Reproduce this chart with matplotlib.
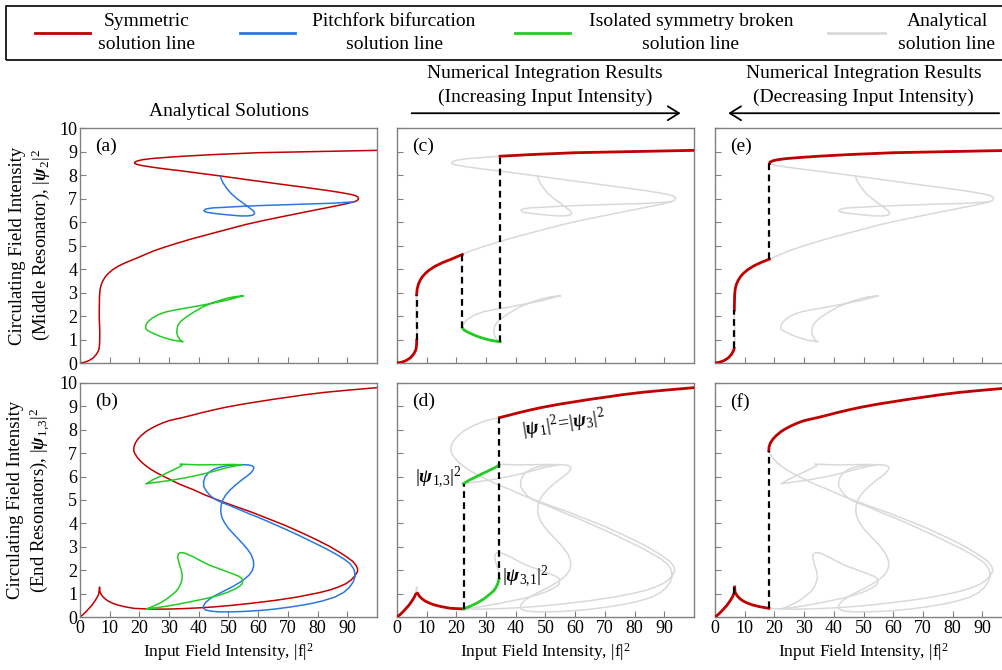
import matplotlib
matplotlib.use("Agg")
import matplotlib.pyplot as plt
import numpy as np
from matplotlib.patches import Rectangle, FancyArrowPatch
from matplotlib.lines import Line2D

plt.rcParams['font.family'] = 'Liberation Serif'
plt.rcParams['mathtext.fontset'] = 'custom'
plt.rcParams['mathtext.rm'] = 'Liberation Serif'
plt.rcParams['mathtext.it'] = 'Liberation Serif:italic'
plt.rcParams['mathtext.bf'] = 'Liberation Serif:italic:bold'

# --- средний резонатор (a, c, e) ---
mid_sym_x = [0, 1.5, 3, 4.5, 5.6, 6.2, 6.45, 6.6, 6.65, 6.68, 6.6, 6.5, 6.5, 6.55, 6.6, 6.8, 7.2, 7.8, 8.6,
             9.6, 11, 13, 15.5, 18.3, 22, 25, 28.5, 32, 37, 44, 50, 56, 62, 67, 71.7, 76, 80, 84, 87.5, 90,
             92, 93.3, 93.8, 93.6, 92.8, 91, 88, 84, 76, 67, 57, 47.3, 40, 34, 28, 24, 21, 19.2, 18.4, 18.5,
             19.3, 21, 24, 29, 34.7, 45, 60, 80, 100]
mid_sym_y = [0, 0.03, 0.1, 0.22, 0.38, 0.52, 0.62, 0.8, 0.98, 1.3, 1.6, 1.9, 2.25, 2.6, 2.9, 3.15, 3.35, 3.52,
             3.68, 3.82, 3.97, 4.13, 4.28, 4.42, 4.62, 4.78, 4.93, 5.07, 5.26, 5.5, 5.7, 5.9, 6.07, 6.2, 6.32,
             6.43, 6.53, 6.63, 6.72, 6.79, 6.85, 6.91, 6.98, 7.06, 7.12, 7.18, 7.25, 7.33, 7.47, 7.62, 7.79,
             7.96, 8.08, 8.18, 8.27, 8.34, 8.4, 8.45, 8.5, 8.55, 8.6, 8.65, 8.7, 8.75, 8.8, 8.87, 8.95, 9.0, 9.05]
mid_blue_x = [47.3, 47.6, 48.3, 49.5, 51, 53, 55.3, 57.3, 58.6, 58.8, 58.2, 56.5, 54, 49.3, 45, 42.5, 41.7,
              42.3, 44.5, 49.3, 55, 60.5, 70, 77.3, 85, 92.4]
mid_blue_y = [7.96, 7.82, 7.64, 7.42, 7.2, 6.98, 6.77, 6.58, 6.45, 6.36, 6.29, 6.26, 6.26, 6.31, 6.37, 6.42,
              6.48, 6.55, 6.6, 6.63, 6.67, 6.7, 6.74, 6.77, 6.8, 6.86]
mid_green_x = [54.9, 52, 49.3, 44, 38.1, 33, 29.1, 26.2, 24.1, 22.8, 22.2, 22.1, 22.6, 24, 26.9, 29.3, 31.4,
               33.3, 34.7, 33.6, 32.9, 32.6, 32.7, 33, 34, 35.8, 38.5, 41.4, 45, 49.3, 52, 54.9]
mid_green_y = [2.86, 2.76, 2.67, 2.53, 2.39, 2.28, 2.18, 2.05, 1.89, 1.74, 1.61, 1.48, 1.4, 1.3, 1.14, 1.04,
               0.97, 0.93, 0.9, 1.0, 1.15, 1.3, 1.45, 1.61, 1.78, 1.96, 2.18, 2.39, 2.58, 2.75, 2.82, 2.86]

# --- крайние резонаторы (b, d, f) ---
end_sym_x = [0, 1, 2, 3, 4, 5, 5.8, 6.3, 6.6, 6.7, 6.9, 7.6, 8.5, 9.5, 11, 12.5, 15, 18.1, 22.5, 26, 30, 35,
             40, 45, 51.3, 58, 65.7, 73, 80.2, 84, 87, 89.5, 91.3, 92.6, 93.4, 93.5, 93, 91.8, 90, 88, 84, 80,
             75, 69, 63, 58, 52, 47, 42, 38, 34, 31, 28, 26, 24, 22.3, 20.6, 19.3, 18.5, 18.1, 18.2, 18.7,
             19.5, 20.6, 22.3, 24, 26, 28, 30, 32, 34.5, 38, 41, 45, 49, 55, 60, 65, 70, 76, 82.5, 90, 100]
end_sym_y = [0, 0.1, 0.22, 0.36, 0.5, 0.68, 0.84, 0.98, 1.28, 1.1, 1.02, 0.88, 0.77, 0.68, 0.59, 0.52, 0.44,
             0.37, 0.345, 0.335, 0.34, 0.36, 0.39, 0.43, 0.5, 0.59, 0.71, 0.85, 1.03, 1.15, 1.28, 1.42, 1.58,
             1.76, 1.93, 2.05, 2.2, 2.38, 2.55, 2.72, 3.02, 3.28, 3.58, 3.92, 4.22, 4.47, 4.74, 4.97, 5.22,
             5.45, 5.65, 5.83, 6.02, 6.15, 6.3, 6.45, 6.63, 6.82, 6.98, 7.1, 7.28, 7.45, 7.6, 7.75, 7.93,
             8.06, 8.19, 8.3, 8.39, 8.45, 8.52, 8.63, 8.73, 8.85, 8.96, 9.1, 9.2, 9.3, 9.39, 9.5, 9.6, 9.69, 9.8]
end_blue_x = [92.6, 92.2, 91, 89, 86, 82.4, 78, 73.5, 68.5, 63.5, 60, 56.8, 53.5, 50.5, 48.5, 47.1, 45.6, 44,
              42.6, 41.7, 41.6, 42.2, 43.4, 45, 47, 49.5, 52, 54.5, 56.5, 57.8, 58.5, 58.4, 57.5, 56, 54.2,
              52.3, 50.5, 49, 48, 47.5, 47.4, 47.8, 48.6, 49.9, 51.5, 53.2, 54.9, 56.5, 57.7, 58.4, 58.5, 58,
              57, 55.7, 53.7, 51.3, 48.5, 45.7, 43.7, 42.3, 41.6, 41.6, 42.3, 44, 46.8, 51, 55.7, 60.7, 65.7,
              71, 76.9, 81.5, 85.8, 88.8, 90.8, 92, 92.6, 92.6]
end_blue_y = [1.85, 2.05, 2.27, 2.47, 2.7, 2.95, 3.22, 3.5, 3.79, 4.07, 4.26, 4.42, 4.6, 4.76, 4.86, 4.93,
              5.02, 5.17, 5.37, 5.57, 5.78, 6.0, 6.18, 6.31, 6.4, 6.47, 6.5, 6.51, 6.5, 6.47, 6.41, 6.3, 6.15,
              6.0, 5.83, 5.63, 5.42, 5.2, 4.98, 4.75, 4.5, 4.25, 4.05, 3.8, 3.58, 3.35, 3.12, 2.88, 2.65, 2.4,
              2.18, 1.98, 1.8, 1.65, 1.47, 1.29, 1.11, 0.93, 0.77, 0.62, 0.48, 0.38, 0.3, 0.25, 0.22, 0.22,
              0.24, 0.28, 0.34, 0.43, 0.55, 0.68, 0.85, 1.05, 1.28, 1.5, 1.71, 1.85]
end_green_lo_x = [22.5, 24.5, 27, 29.2, 31, 32.4, 33.3, 34, 34.4, 34.4, 34.1, 33.6, 33.2, 32.9, 33.1, 33.6,
                  34.6, 35.5, 38, 40.5, 43.5, 47.5, 51.3, 53.5, 54.6, 54.8, 54.6, 53.8, 52.4, 49.8, 46.8,
                  42.5, 37.9, 33.5, 30, 26, 22.5]
end_green_lo_y = [0.35, 0.45, 0.6, 0.77, 0.95, 1.1, 1.25, 1.45, 1.64, 1.82, 2.0, 2.2, 2.38, 2.55, 2.68, 2.74,
                  2.75, 2.72, 2.58, 2.41, 2.22, 2.03, 1.85, 1.74, 1.64, 1.52, 1.42, 1.32, 1.21, 1.06, 0.93,
                  0.79, 0.67, 0.56, 0.48, 0.4, 0.35]
end_green_hi_x = [22.4, 24.5, 26.8, 28.5, 30, 32.3, 34.4, 33.7, 36, 40, 47, 52, 54.5, 50, 46, 42.4, 39, 36,
                  31.2, 26, 22.4]
end_green_hi_y = [5.7, 5.86, 6.0, 6.11, 6.2, 6.34, 6.48, 6.53, 6.52, 6.5, 6.51, 6.52, 6.5, 6.4, 6.26, 6.14,
                  6.04, 5.96, 5.85, 5.76, 5.7]

# скачки (вертикальные пунктиры): x, y_от, y_до
c_jump_x, c_jump_y0, c_jump_y1 = [6.65, 22, 34.7], [0.98, 1.48, 0.9], [2.9, 4.62, 8.8]
e_jump_x, e_jump_y0, e_jump_y1 = [6.5, 18.3], [0.62, 4.42], [2.25, 8.5]
d_jump_x, d_jump_y0, d_jump_y1 = [22.5, 34.5], [0.345, 1.64], [5.7, 8.52]
f_jump_x, f_jump_y0, f_jump_y1 = [6.45, 18.1], [0.98, 0.37], [1.28, 7.1]

RED = '#c00000'
BLUE = '#2a78e0'
GREEN = '#22cc22'
GRAY = '#d9d9d9'
SPINE = '#808080'

mid_sym = np.array([mid_sym_x, mid_sym_y])
mid_blue = np.array([mid_blue_x, mid_blue_y])
mid_green = np.array([mid_green_x, mid_green_y])
end_sym = np.array([end_sym_x, end_sym_y])
end_blue = np.array([end_blue_x, end_blue_y])
end_green_lo = np.array([end_green_lo_x, end_green_lo_y])
end_green_hi = np.array([end_green_hi_x, end_green_hi_y])


def find(curve, x, y):
    return int(np.where((curve[0] == x) & (curve[1] == y))[0][0])


def seg(curve, p0, p1):
    i0 = find(curve, *p0)
    i1 = find(curve, *p1)
    return curve[:, i0:i1 + 1]


fig = plt.figure(figsize=(10.02, 6.70), dpi=100)

W = 0.2964
lefts = [0.0798, 0.3962, 0.7136]
top_b, top_h = 0.4582, 0.3507
bot_b, bot_h = 0.0791, 0.3493

axes = {}
for col, name in enumerate(['a', 'c', 'e']):
    axes[name] = fig.add_axes([lefts[col], top_b, W, top_h])
for col, name in enumerate(['b', 'd', 'f']):
    axes[name] = fig.add_axes([lefts[col], bot_b, W, bot_h])

for name, ax in axes.items():
    ax.set_xlim(0, 100)
    ax.set_ylim(0, 10)
    ax.set_xticks(range(0, 100, 10))
    ax.set_yticks(range(0, 11))
    ax.tick_params(direction='in', length=4, color=SPINE, labelsize=13, pad=2)
    for s in ax.spines.values():
        s.set_color(SPINE)
        s.set_linewidth(1.0)
    if name not in ('a', 'b'):
        ax.set_yticklabels([])
    if name in ('a', 'c', 'e'):
        ax.set_xticklabels([])
    else:
        ax.set_xlabel('Input Field Intensity, |f|$^2$', fontsize=12.5, labelpad=3)
    ax.text(0.05, 0.92, '(' + name + ')', transform=ax.transAxes, fontsize=14, va='center', ha='left')

axes['a'].set_ylabel('Circulating Field Intensity\n(Middle Resonator), $|\\mathbf{\\psi}_2|^2$', fontsize=13.5)
axes['b'].set_ylabel('Circulating Field Intensity\n(End Resonators), $|\\mathbf{\\psi}_{1,\\!3}|^2$', fontsize=13.5)
for n in ('a', 'b'):
    axes[n].yaxis.set_label_coords(-0.095, 0.5)

lw_a = 1.1
lw_n = 2.0

# (a) аналитика
ax = axes['a']
ax.plot(*mid_sym, color=RED, lw=lw_a)
ax.plot(*mid_blue, color=BLUE, lw=lw_a)
ax.plot(*mid_green, color=GREEN, lw=lw_a)

# (b) аналитика
ax = axes['b']
ax.plot(*end_sym, color=RED, lw=lw_a)
ax.plot(*end_blue, color=BLUE, lw=lw_a)
ax.plot(*end_green_lo, color=GREEN, lw=lw_a)
ax.plot(*end_green_hi, color=GREEN, lw=lw_a)


def gray_all(ax, curves):
    for c in curves:
        ax.plot(*c, color=GRAY, lw=lw_a)


def jumps(ax, x, y0, y1):
    ax.vlines(x, y0, y1, colors='black', linestyles=(0, (3, 2)), lw=1.6, zorder=4)


# (c) рост интенсивности
ax = axes['c']
gray_all(ax, [mid_sym, mid_blue, mid_green])
for p0, p1 in [((0, 0), (6.65, 0.98)), ((6.6, 2.9), (22, 4.62)), ((34.7, 8.8), (100, 9.05))]:
    ax.plot(*seg(mid_sym, p0, p1), color=RED, lw=lw_n, zorder=3)
ax.plot(*seg(mid_green, (22.1, 1.48), (34.7, 0.9)), color=GREEN, lw=lw_n, zorder=3)
jumps(ax, c_jump_x, c_jump_y0, c_jump_y1)

# (e) спад интенсивности
ax = axes['e']
gray_all(ax, [mid_sym, mid_blue, mid_green])
for p0, p1 in [((0, 0), (6.45, 0.62)), ((6.5, 2.25), (18.3, 4.42)), ((18.4, 8.5), (100, 9.05))]:
    ax.plot(*seg(mid_sym, p0, p1), color=RED, lw=lw_n, zorder=3)
jumps(ax, e_jump_x, e_jump_y0, e_jump_y1)

# (d) рост интенсивности
ax = axes['d']
gray_all(ax, [end_sym, end_blue, end_green_lo, end_green_hi])
low = np.hstack([seg(end_sym, (0, 0), (6.3, 0.98)), seg(end_sym, (6.9, 1.02), (22.5, 0.345))])
ax.plot(*low, color=RED, lw=lw_n, zorder=3)
ax.plot(*seg(end_sym, (34.5, 8.52), (100, 9.8)), color=RED, lw=lw_n, zorder=3)
ax.plot(*seg(end_green_lo, (22.5, 0.35), (34.4, 1.64)), color=GREEN, lw=lw_n, zorder=3)
ax.plot(*seg(end_green_hi, (22.4, 5.7), (34.4, 6.48)), color=GREEN, lw=lw_n, zorder=3)
jumps(ax, d_jump_x, d_jump_y0, d_jump_y1)
ax.text(56, 8.25, '$|\\mathbf{\\psi}_1|^2\\!=\\!|\\mathbf{\\psi}_3|^2$', fontsize=14,
        rotation=9, ha='center', va='center')
ax.text(22.0, 5.95, '$|\\mathbf{\\psi}_{1,\\!3}|^2$', fontsize=14, ha='right', va='center')
ax.text(35.3, 1.75, '$|\\mathbf{\\psi}_{3,\\!1}|^2$', fontsize=14, ha='left', va='center')

# (f) спад интенсивности
ax = axes['f']
gray_all(ax, [end_sym, end_blue, end_green_lo, end_green_hi])
for p0, p1 in [((0, 0), (6.3, 0.98)), ((6.6, 1.28), (18.1, 0.37)), ((18.1, 7.1), (100, 9.8))]:
    ax.plot(*seg(end_sym, p0, p1), color=RED, lw=lw_n, zorder=3)
jumps(ax, f_jump_x, f_jump_y0, f_jump_y1)

# заголовки колонок и стрелки
fig.text(0.229, 0.834, 'Analytical Solutions', fontsize=14, ha='center', va='center')
fig.text(0.544, 0.891, 'Numerical Integration Results', fontsize=14, ha='center', va='center')
fig.text(0.544, 0.855, '(Increasing Input Intensity)', fontsize=14, ha='center', va='center')
fig.text(0.862, 0.891, 'Numerical Integration Results', fontsize=14, ha='center', va='center')
fig.text(0.862, 0.855, '(Decreasing Input Intensity)', fontsize=14, ha='center', va='center')
for start, end in [((0.408, 0.831), (0.682, 0.831)), ((1.0, 0.831), (0.724, 0.831))]:
    fig.patches.append(FancyArrowPatch(start, end, transform=fig.transFigure,
                                       arrowstyle='->,head_length=8,head_width=5', color='black', lw=1.3))

# легенда
leg_labels = ['Symmetric\nsolution line', 'Pitchfork bifurcation\nsolution line',
              'Isolated symmetry broken\nsolution line', 'Analytical\nsolution line']
leg_colors = [RED, BLUE, GREEN, GRAY]
leg_line_x = [(35, 90), (240, 295), (515, 570), (828, 885)]
leg_text_x = [147, 394, 691, 947]
fig.patches.append(Rectangle((6 / 1002, 1 - 60 / 670), 1.0, 54 / 670, transform=fig.transFigure,
                             fill=False, edgecolor='black', lw=1.2))
for lab, c, (x0, x1), tx in zip(leg_labels, leg_colors, leg_line_x, leg_text_x):
    fig.lines.append(Line2D([x0 / 1002, x1 / 1002], [1 - 33 / 670] * 2, transform=fig.transFigure,
                            color=c, lw=2.0))
    fig.text(tx / 1002, 1 - 33 / 670, lab, fontsize=14, ha='center', va='center',
             multialignment='center', linespacing=1.4)

fig.savefig('out.png', dpi=100)
